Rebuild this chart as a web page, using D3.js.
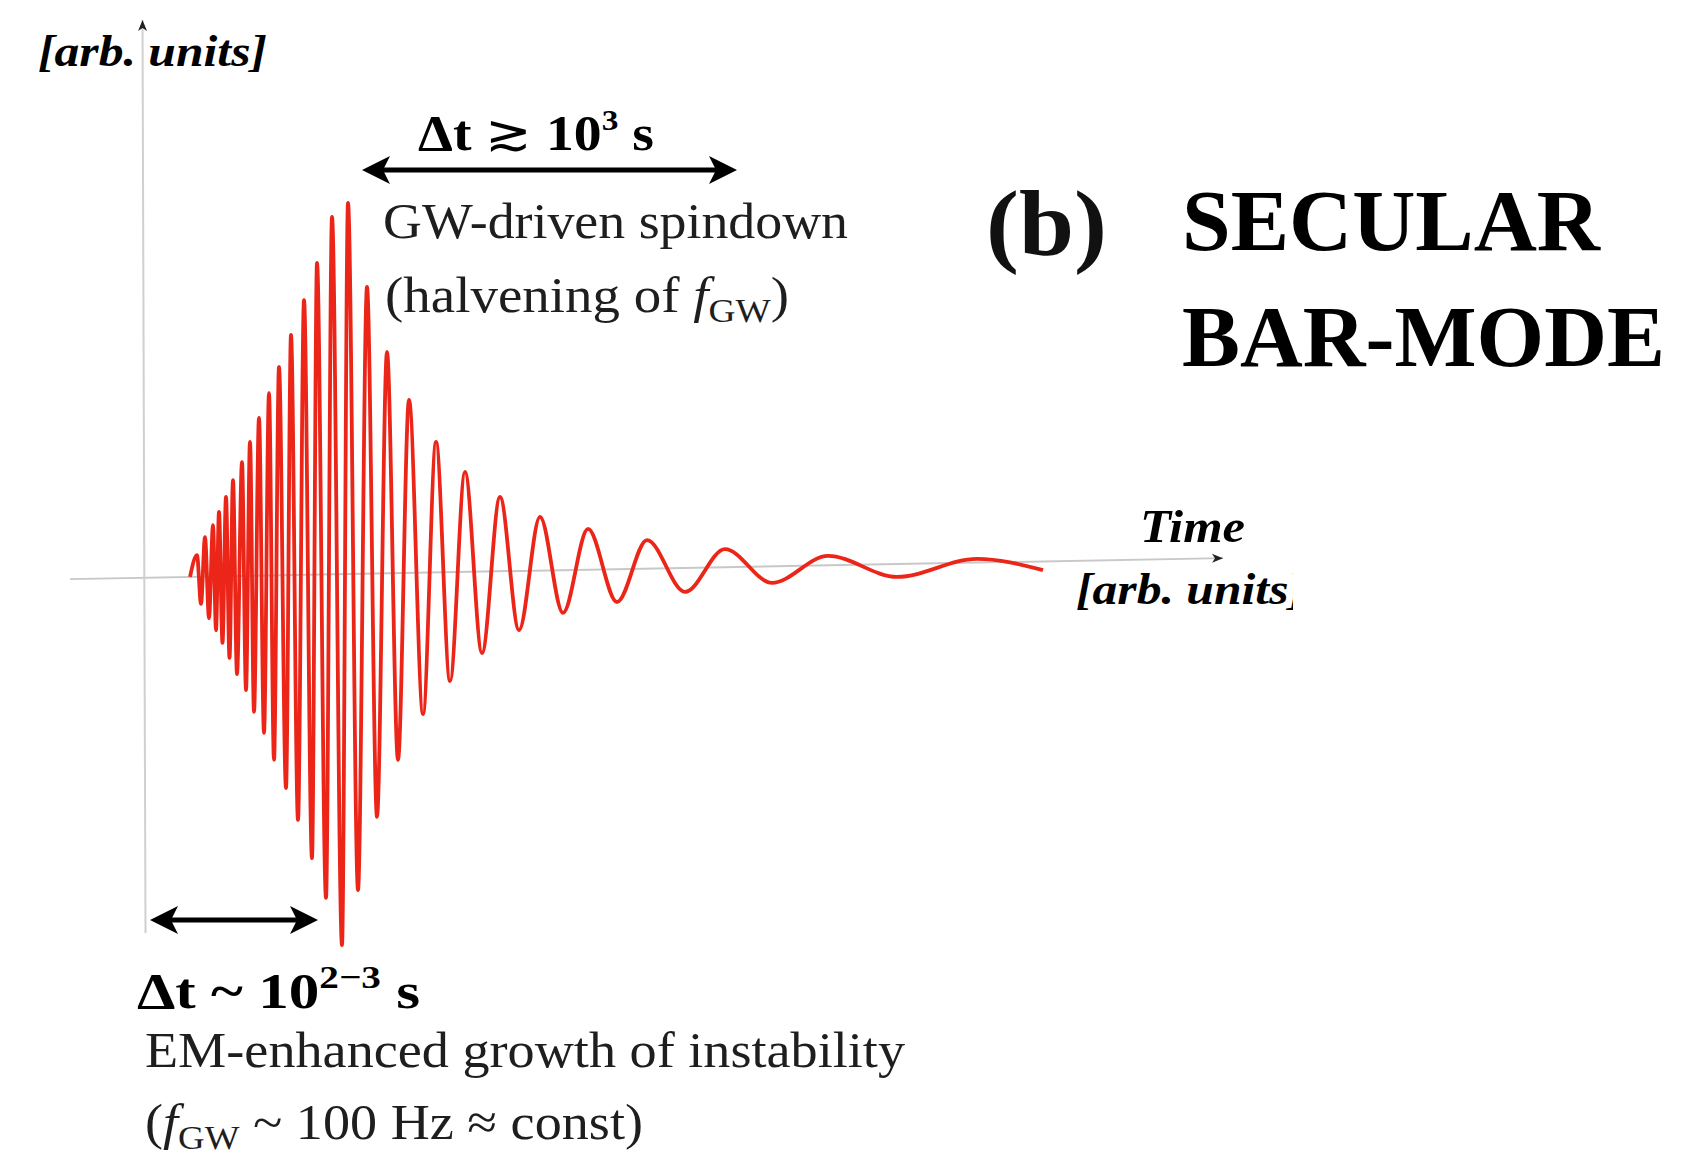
<!DOCTYPE html>
<html>
<head>
<meta charset="utf-8">
<script src="https://cdn.jsdelivr.net/npm/d3@7"></script>
<style>
  body { margin: 0; background: #fff; }
</style>
</head>
<body>
<div class="canva"></div>
<script>
// waveform extrema (time and amplitude in arb. units)
var timeValues = [4.8, 5.5, 5.9, 6.3, 6.7, 7.1, 7.4, 7.7, 8.05, 8.4, 8.75, 9.1, 9.5, 10.0, 10.4,
    10.8, 11.2, 11.7, 12.2, 12.7, 13.2, 13.7, 14.4, 14.9, 15.6, 16.2, 17.0, 17.5, 18.4, 19.0,
    20.0, 20.6, 21.6, 22.5, 23.5, 24.5, 25.6, 26.7, 28.1, 29.4, 30.8, 32.3, 34.0, 35.8, 37.7,
    39.8, 42.1, 44.6, 47.5, 50.5, 54.3, 58.3, 63.0, 68.6, 75.5, 83.5, 90.1];
var ampValues = [-0.005, 0.053, -0.077, 0.101, -0.115, 0.133, -0.147, 0.168, -0.181, 0.208, -0.221,
    0.253, -0.264, 0.301, -0.307, 0.355, -0.365, 0.419, -0.421, 0.485, -0.493, 0.555, -0.568,
    0.640, -0.653, 0.733, -0.755, 0.832, -0.861, 0.955, -0.987, 0.992, -0.840, 0.768, -0.645,
    0.595, -0.493, 0.467, -0.371, 0.355, -0.283, 0.275, -0.208, 0.208, -0.147, 0.155, -0.101,
    0.123, -0.072, 0.093, -0.045, 0.069, -0.021, 0.051, -0.005, 0.043, 0.013];

// axis ends (time, amplitude)
var xAxisEnds = [[-7.2, -0.011], [108.1, 0.045]];
var yAxisEnds = [[0.35, -0.955], [0.05, 1.48]];

// the two time spans marked with double arrows
var spanStart = [0.8, 22.0];
var spanEnd = [17.6, 59.5];
var spanLevel = [-0.92, 1.08];

const canvas = d3.select(".canva");
const svg = canvas.append("svg")
                  .attr("width", 1690)
                  .attr("height", 1168);

const x = d3.scaleLinear().domain([0, 108]).range([142, 1222]);
const y = d3.scaleLinear().domain([-1, 1]).range([950, 200]);

const defs = svg.append("defs");
defs.append("marker")
    .attr("id", "thin")
    .attr("markerUnits", "userSpaceOnUse")
    .attr("viewBox", "-12 -6 14 12")
    .attr("refX", 0).attr("refY", 0)
    .attr("markerWidth", 14).attr("markerHeight", 12)
    .attr("orient", "auto")
    .append("path")
    .attr("d", "M0,0 L-11,-4.5 L-8,0 L-11,4.5 Z")
    .attr("fill", "#222");
// fat head: the tip sits 20px beyond the end of the shaft
defs.append("marker")
    .attr("id", "fat")
    .attr("markerUnits", "userSpaceOnUse")
    .attr("viewBox", "-30 -16 32 32")
    .attr("refX", -20).attr("refY", 0)
    .attr("markerWidth", 32).attr("markerHeight", 32)
    .attr("orient", "auto-start-reverse")
    .append("path")
    .attr("d", "M0,0 L-28,-14 L-21,0 L-28,14 Z")
    .attr("fill", "#000");
defs.append("clipPath").attr("id", "cut")
    .append("rect").attr("x", 0).attr("y", 0).attr("width", 1293).attr("height", 1168);

// axes
const axisLine = d3.line()
    .x(function (d) { return x(d[0]); })
    .y(function (d) { return y(d[1]); });
svg.append("path")
   .attr("d", axisLine(xAxisEnds))
   .attr("stroke", "#c8c8c8")
   .attr("stroke-width", 2)
   .attr("marker-end", "url(#thin)");
svg.append("path")
   .attr("d", axisLine(yAxisEnds))
   .attr("stroke", "#d0d0d0")
   .attr("stroke-width", 2)
   .attr("marker-end", "url(#thin)");

// waveform
var wave = timeValues.map(function (t, i) { return { t: t, a: ampValues[i] }; });
const waveLine = d3.line()
    .x(function (d) { return x(d.t); })
    .y(function (d) { return y(d.a); })
    .curve(d3.curveMonotoneX);
svg.append("path")
   .datum(wave)
   .attr("d", waveLine)
   .attr("fill", "none")
   .attr("stroke", "#ec2519")
   .attr("stroke-width", 3.8)
   .attr("stroke-linejoin", "round");

// double arrows
svg.selectAll(".span")
   .data(spanStart)
   .enter().append("line")
   .attr("class", "span")
   .attr("x1", function (d) { return x(d) + 20; })
   .attr("x2", function (d, i) { return x(spanEnd[i]) - 20; })
   .attr("y1", function (d, i) { return y(spanLevel[i]); })
   .attr("y2", function (d, i) { return y(spanLevel[i]); })
   .attr("stroke", "#000")
   .attr("stroke-width", 5)
   .attr("marker-start", "url(#fat)")
   .attr("marker-end", "url(#fat)");

// text
const serif = "'Liberation Serif', 'DejaVu Serif', serif";
function label(px, py, size, weight, style, len, fill) {
    return svg.append("text")
              .attr("x", px).attr("y", py)
              .attr("font-family", serif)
              .attr("font-size", size)
              .attr("font-weight", weight)
              .attr("font-style", style)
              .attr("fill", fill || "#000")
              .attr("textLength", len)
              .attr("lengthAdjust", "spacingAndGlyphs");
}

label(38, 66, 44, "bold", "italic", 229).text("[arb. units]");
label(1140, 542, 46, "bold", "italic", 105).text("Time");
label(1076, 604, 44, "bold", "italic", 229).attr("clip-path", "url(#cut)").text("[arb. units]");

var t1 = label(418, 150, 50, "bold", "normal", 236);
t1.append("tspan").text("Δt ");
t1.append("tspan").attr("font-weight", "normal").text("≳");
t1.append("tspan").text(" 10");
t1.append("tspan").attr("font-size", 30).attr("dy", -20).text("3");
t1.append("tspan").attr("dy", 20).text(" s");

label(383, 238, 50, "normal", "normal", 465, "#1e1e1e").text("GW-driven spindown");
var t2 = label(385, 312, 50, "normal", "normal", 404, "#1e1e1e");
t2.append("tspan").text("(halvening of ");
t2.append("tspan").attr("font-style", "italic").text("f");
t2.append("tspan").attr("font-size", 34).attr("dy", 10).text("GW");
t2.append("tspan").attr("dy", -10).text(")");

label(986, 255, 94, "bold", "normal", 121, "#111").text("(b)");
label(1182, 250, 87, "bold", "normal", 418).text("SECULAR");
label(1182, 366, 87, "bold", "normal", 483).text("BAR-MODE");

var t3 = label(137, 1008, 50, "bold", "normal", 283);
t3.append("tspan").text("Δt ~ 10");
t3.append("tspan").attr("font-size", 32).attr("dy", -20).text("2−3");
t3.append("tspan").attr("dy", 20).text(" s");

label(145, 1067, 50, "normal", "normal", 760, "#1e1e1e").text("EM-enhanced growth of instability");
var t4 = label(145, 1139, 50, "normal", "normal", 498, "#1e1e1e");
t4.append("tspan").text("(");
t4.append("tspan").attr("font-style", "italic").text("f");
t4.append("tspan").attr("font-size", 34).attr("dy", 10).text("GW");
t4.append("tspan").attr("dy", -10).text(" ~ 100 Hz ≈ const)");
</script>
</body>
</html>
